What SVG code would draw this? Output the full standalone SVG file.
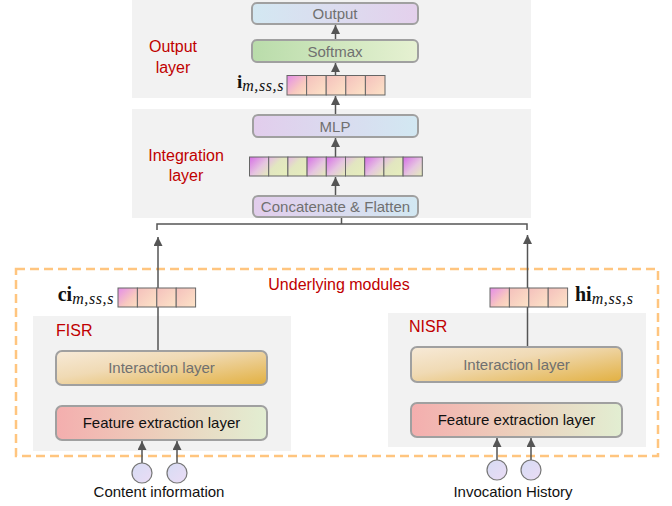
<svg xmlns="http://www.w3.org/2000/svg" width="672" height="506" viewBox="0 0 672 506">
<defs>
  <linearGradient id="gOut" x1="0" y1="0" x2="1" y2="0"><stop offset="0" stop-color="#d3e8f2"/><stop offset="1" stop-color="#e4d0ec"/></linearGradient>
  <linearGradient id="gSoft" x1="0" y1="0" x2="1" y2="0"><stop offset="0" stop-color="#b9dcaa"/><stop offset="1" stop-color="#e6f1d2"/></linearGradient>
  <linearGradient id="gMlp" x1="0" y1="0" x2="1" y2="0"><stop offset="0" stop-color="#e2cdec"/><stop offset="1" stop-color="#d2e8f2"/></linearGradient>
  <linearGradient id="gInt" x1="0" y1="0" x2="1" y2="1"><stop offset="0" stop-color="#f7ead8"/><stop offset="0.4" stop-color="#f0dab4"/><stop offset="1" stop-color="#e2b040"/></linearGradient>
  <linearGradient id="gFeat" x1="0" y1="0" x2="1" y2="0"><stop offset="0" stop-color="#f4aeae"/><stop offset="0.5" stop-color="#ecd0bc"/><stop offset="1" stop-color="#e2eed2"/></linearGradient>
  <linearGradient id="gCirc" x1="0" y1="0" x2="1" y2="1"><stop offset="0" stop-color="#d6dcf4"/><stop offset="1" stop-color="#ebdcf5"/></linearGradient>
  <linearGradient id="gPk1" x1="0" y1="0" x2="1" y2="1"><stop offset="0" stop-color="#e48ce8"/><stop offset="0.6" stop-color="#f8c8c0"/><stop offset="1" stop-color="#fde0c2"/></linearGradient>
  <linearGradient id="gPk2" x1="0" y1="0" x2="1" y2="1"><stop offset="0" stop-color="#f4c0bc"/><stop offset="1" stop-color="#fde4c8"/></linearGradient>
  <linearGradient id="gV1" x1="0" y1="0" x2="1" y2="1"><stop offset="0" stop-color="#d66ee6"/><stop offset="0.55" stop-color="#e6c6e0"/><stop offset="1" stop-color="#e4eeb8"/></linearGradient>
  <linearGradient id="gV2" x1="0" y1="0" x2="1" y2="1"><stop offset="0" stop-color="#e6b8e6"/><stop offset="0.4" stop-color="#e2e6c0"/><stop offset="1" stop-color="#e6efbc"/></linearGradient>
  <marker id="ah" viewBox="0 0 10 10" refX="10" refY="5" markerWidth="9" markerHeight="9" markerUnits="userSpaceOnUse" orient="auto"><path d="M0,0 L10,5 L0,10 z" fill="#555"/></marker>
</defs>
<style>
  .panel{fill:#f2f2f2}
  .box{stroke:#a0a0a0;stroke-width:2}
  .cell{stroke:#666;stroke-width:1}
  .t{font-family:"Liberation Sans",Arial,sans-serif;font-size:15px;text-anchor:middle}
  .gray{fill:#707070}
  .red{font-family:"Liberation Sans",Arial,sans-serif;font-size:16px;fill:#c00000}
  .arr{stroke:#555;stroke-width:1.5;fill:none;marker-end:url(#ah)}
  .ln{stroke:#555;stroke-width:1.5;fill:none}
  .m{font-family:"Liberation Serif","Times New Roman",serif;fill:#111}
  .sub{font-style:italic;font-size:16px;letter-spacing:0.6px}
  .circ{fill:url(#gCirc);stroke:#777;stroke-width:1.2}
</style>

<!-- panels -->
<rect class="panel" x="132" y="0" width="399" height="98"/>
<rect class="panel" x="132" y="109" width="399" height="109"/>
<rect class="panel" x="33" y="316" width="258" height="135"/>
<rect class="panel" x="388" y="313" width="258" height="134"/>
<rect x="16" y="269" width="642" height="187" fill="none" stroke="#ffc57f" stroke-width="2.5" stroke-dasharray="9,5"/>

<text class="red" x="173" y="52" text-anchor="middle">Output</text>
<text class="red" x="173" y="73" text-anchor="middle">layer</text>
<text class="red" x="186" y="161" text-anchor="middle">Integration</text>
<text class="red" x="186" y="181" text-anchor="middle">layer</text>
<text class="red" x="339" y="290" text-anchor="middle">Underlying modules</text>
<text class="red" x="56" y="336">FISR</text>
<text class="red" x="409" y="332">NISR</text>

<!-- connectors -->
<g id="connectors">
  <line class="arr" x1="335.5" y1="40" x2="335.5" y2="25"/>
  <line class="arr" x1="335.5" y1="75" x2="335.5" y2="63"/>
  <line class="arr" x1="335.5" y1="115" x2="335.5" y2="96"/>
  <line class="arr" x1="335.5" y1="157" x2="335.5" y2="138"/>
  <line class="arr" x1="335.5" y1="196" x2="335.5" y2="177"/>
  <path class="ln" d="M157,230 V224 H527 V230 M341.5,224 V217"/>
  <line class="arr" x1="158" y1="351" x2="158" y2="237"/>
  <line class="arr" x1="527.5" y1="347" x2="527.5" y2="235"/>
  <line class="arr" x1="142" y1="463" x2="142" y2="441"/>
  <line class="arr" x1="177" y1="463" x2="177" y2="441"/>
  <line class="arr" x1="497" y1="460" x2="497" y2="438"/>
  <line class="arr" x1="531" y1="460" x2="531" y2="438"/>
</g>

<!-- output layer -->
<g id="output">
  <rect class="box" x="252" y="3" width="166" height="21" rx="5" fill="url(#gOut)"/>
  <text class="t gray" x="335" y="19">Output</text>
</g>
<g id="softmax">
  <rect class="box" x="252" y="40" width="166" height="22" rx="5" fill="url(#gSoft)"/>
  <text class="t gray" x="335" y="56.5">Softmax</text>
</g>
<g id="vec-i">
  <rect class="cell" x="287" y="75.5" width="19.6" height="19.5" fill="url(#gPk1)"/>
  <rect class="cell" x="306.6" y="75.5" width="19.6" height="19.5" fill="url(#gPk2)"/>
  <rect class="cell" x="326.2" y="75.5" width="19.6" height="19.5" fill="url(#gPk2)"/>
  <rect class="cell" x="345.8" y="75.5" width="19.6" height="19.5" fill="url(#gPk2)"/>
  <rect class="cell" x="365.4" y="75.5" width="19.6" height="19.5" fill="url(#gPk2)"/>
  <text class="m" x="284" y="88" text-anchor="end"><tspan font-weight="bold" font-size="19">i</tspan><tspan class="sub" dy="3">m,ss,s</tspan></text>
</g>

<!-- integration layer -->
<g id="mlp">
  <rect class="box" x="253" y="115" width="165" height="22" rx="5" fill="url(#gMlp)"/>
  <text class="t gray" x="335" y="131.5">MLP</text>
</g>
<g id="vec-concat">
  <rect class="cell" x="249.5" y="157" width="19.2" height="19" fill="url(#gV1)"/>
  <rect class="cell" x="268.7" y="157" width="19.2" height="19" fill="url(#gV2)"/>
  <rect class="cell" x="287.9" y="157" width="19.2" height="19" fill="url(#gV2)"/>
  <rect class="cell" x="307.1" y="157" width="19.2" height="19" fill="url(#gV1)"/>
  <rect class="cell" x="326.3" y="157" width="19.2" height="19" fill="url(#gV1)"/>
  <rect class="cell" x="345.5" y="157" width="19.2" height="19" fill="url(#gV2)"/>
  <rect class="cell" x="364.7" y="157" width="19.2" height="19" fill="url(#gV1)"/>
  <rect class="cell" x="383.9" y="157" width="19.2" height="19" fill="url(#gV2)"/>
  <rect class="cell" x="403.1" y="157" width="19.2" height="19" fill="url(#gV1)"/>
</g>
<g id="concat">
  <rect class="box" x="253" y="196" width="165" height="21" rx="5" fill="url(#gMlp)"/>
  <text class="t gray" x="335.5" y="212">Concatenate &amp; Flatten</text>
</g>

<!-- FISR -->
<g id="vec-ci">
  <rect class="cell" x="118" y="288" width="19.4" height="19" fill="url(#gPk1)"/>
  <rect class="cell" x="137.4" y="288" width="19.4" height="19" fill="url(#gPk2)"/>
  <rect class="cell" x="156.8" y="288" width="19.4" height="19" fill="url(#gPk2)"/>
  <rect class="cell" x="176.2" y="288" width="19.4" height="19" fill="url(#gPk2)"/>
  <text class="m" x="114" y="301" text-anchor="end"><tspan font-weight="bold" font-size="20">ci</tspan><tspan class="sub" dy="3">m,ss,s</tspan></text>
</g>
<g id="fisr-interaction">
  <rect class="box" x="56" y="351" width="211" height="34" rx="6" fill="url(#gInt)"/>
  <text class="t gray" x="161.5" y="373">Interaction layer</text>
</g>
<g id="fisr-feature">
  <rect class="box" x="56" y="406" width="211" height="34" rx="6" fill="url(#gFeat)"/>
  <text class="t" x="161.5" y="428" fill="#111">Feature extraction layer</text>
</g>
<g id="content-info">
  <circle class="circ" cx="142" cy="473" r="10"/>
  <circle class="circ" cx="177" cy="473" r="10"/>
  <text class="t" x="159" y="497" fill="#111">Content information</text>
</g>

<!-- NISR -->
<g id="vec-hi">
  <rect class="cell" x="490" y="288" width="19.4" height="19" fill="url(#gPk1)"/>
  <rect class="cell" x="509.4" y="288" width="19.4" height="19" fill="url(#gPk2)"/>
  <rect class="cell" x="528.8" y="288" width="19.4" height="19" fill="url(#gPk2)"/>
  <rect class="cell" x="548.2" y="288" width="19.4" height="19" fill="url(#gPk2)"/>
  <text class="m" x="575" y="301"><tspan font-weight="bold" font-size="20">hi</tspan><tspan class="sub" dy="3">m,ss,s</tspan></text>
</g>
<g id="nisr-interaction">
  <rect class="box" x="411" y="347" width="211" height="35" rx="6" fill="url(#gInt)"/>
  <text class="t gray" x="516.5" y="370">Interaction layer</text>
</g>
<g id="nisr-feature">
  <rect class="box" x="411" y="403" width="211" height="34" rx="6" fill="url(#gFeat)"/>
  <text class="t" x="516.5" y="425" fill="#111">Feature extraction layer</text>
</g>
<g id="invocation-history">
  <circle class="circ" cx="497" cy="470" r="10"/>
  <circle class="circ" cx="531" cy="470" r="10"/>
  <text class="t" x="513" y="497" fill="#111">Invocation History</text>
</g>
</svg>
